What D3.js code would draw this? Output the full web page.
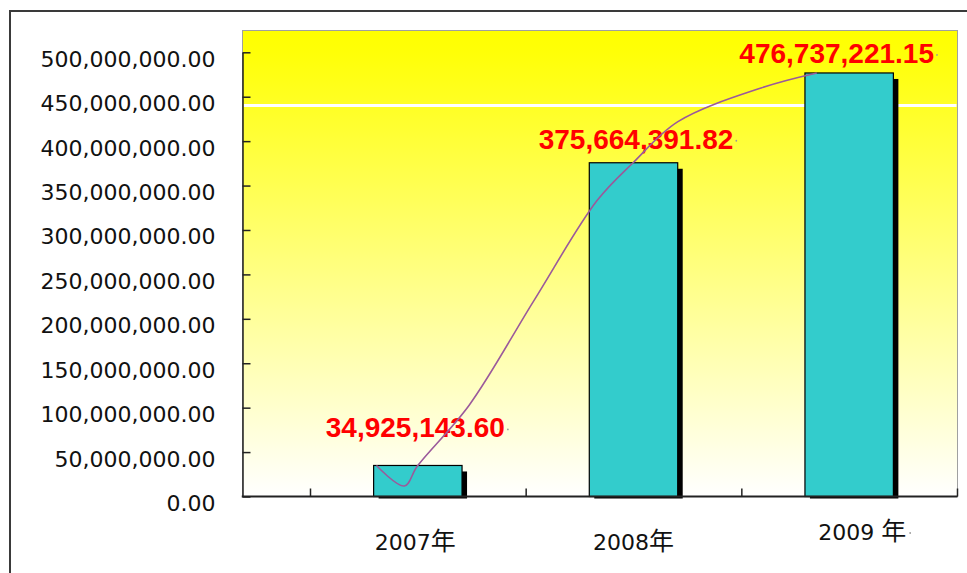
<!DOCTYPE html>
<html>
<head>
<meta charset="utf-8">
<script src="https://cdn.jsdelivr.net/npm/d3@7"></script>
<style>
  html, body { margin: 0; padding: 0; background: #fff; overflow: hidden; }
  svg { display: block; }
</style>
</head>
<body>
<svg id="chart" width="967" height="573"></svg>
<script>
// ---- data ----
const years = ["2007年", "2008年", "2009 年"];
const amounts = [34925143.60, 375664391.82, 476737221.15];
const yTickValues = [0, 50e6, 100e6, 150e6, 200e6, 250e6, 300e6, 350e6, 400e6, 450e6, 500e6];
const referenceValue = 440e6;
// smoothed trend curve: position in category units (0 = centre of first year) and value
const trendPos = [-0.192, -0.0625, -0.002, 0.238, 0.539, 0.831, 0.998, 1.206, 1.595, 1.850];
const trendValues = [34.9e6, 11.8e6, 34.3e6, 102.8e6, 220.8e6, 333.1e6, 375.7e6, 421.9e6, 460.1e6, 476.7e6];

// ---- layout / style ----
const plot = { left: 242.5, top: 30.5, right: 957.5, bottom: 496.5 };
const bandStart = 310, bandEnd = 957;
const valueLabelShift = [[-2.5, -28], [2.5, -14], [-12.5, -10]];   // [dx, dy] from bar top centre
const yearLabelShift = [[-2.5, 0], [0, 0], [13, -10]];
const fmt = d3.format(",.2f");

const svg = d3.select("#chart");

// outer frame
svg.append("rect")
  .attr("x", 10).attr("y", 11).attr("width", 2000).attr("height", 2000)
  .attr("fill", "none").attr("stroke", "#3a3a3a").attr("stroke-width", 2);

// scales
const y = d3.scaleLinear().domain([0, 500e6]).range([plot.bottom, 52.3]);
const x = d3.scaleBand().domain(years).range([bandStart, bandEnd])
  .paddingInner(0.59).paddingOuter(0.295);
const bw = x.bandwidth();
const centre = d => x(d) + bw / 2;
const xPos = d3.scaleLinear().domain([0, years.length - 1])
  .range([centre(years[0]), centre(years[years.length - 1])]);

// plot background gradient
const defs = svg.append("defs");
const grad = defs.append("linearGradient").attr("id", "bg")
  .attr("x1", 0).attr("y1", 0).attr("x2", 0).attr("y2", 1);
grad.append("stop").attr("offset", "0%").attr("stop-color", "#ffff00");
grad.append("stop").attr("offset", "5%").attr("stop-color", "#ffff08");
grad.append("stop").attr("offset", "100%").attr("stop-color", "#ffffff");

svg.append("rect")
  .attr("x", plot.left).attr("y", plot.top)
  .attr("width", plot.right - plot.left).attr("height", plot.bottom - plot.top)
  .attr("fill", "url(#bg)").attr("stroke", "#a0a0a0").attr("stroke-width", 1);

// white reference line
svg.append("line")
  .attr("x1", plot.left + 1).attr("x2", plot.right - 1)
  .attr("y1", y(referenceValue)).attr("y2", y(referenceValue))
  .attr("stroke", "#ffffff").attr("stroke-width", 3);

// bars with drop shadow
const data = years.map((k, i) => ({ k, v: amounts[i], i }));
svg.append("g").selectAll("rect").data(data).join("rect")
  .attr("x", d => x(d.k) + 5).attr("y", d => y(d.v) + 6)
  .attr("width", bw).attr("height", d => plot.bottom + 2 - y(d.v) - 6)
  .attr("fill", "#000");
svg.append("g").selectAll("rect").data(data).join("rect")
  .attr("x", d => x(d.k)).attr("y", d => y(d.v))
  .attr("width", bw).attr("height", d => plot.bottom - y(d.v))
  .attr("fill", "#33cccc").attr("stroke", "#000").attr("stroke-width", 1.2);

// value labels
const vl = svg.append("g").selectAll("text").data(data).join("text")
  .attr("x", d => centre(d.k) + valueLabelShift[d.i][0])
  .attr("y", d => y(d.v) + valueLabelShift[d.i][1])
  .attr("text-anchor", "middle")
  .attr("font-family", "'Liberation Sans', Arial, sans-serif")
  .attr("font-weight", "bold").attr("font-size", 28)
  .attr("fill", "#ff0000")
  .text(d => fmt(d.v));
vl.each(function (d) {
  const b = this.getBBox();
  svg.append("circle")
    .attr("cx", b.x + b.width + 3).attr("cy", y(d.v) + valueLabelShift[d.i][1] - 8)
    .attr("r", 0.9).attr("fill", "#9a9a9a");
});

// y axis (ticks point into the plot)
const yAxis = svg.append("g")
  .attr("transform", `translate(${plot.left},0)`)
  .call(d3.axisLeft(y).tickValues(yTickValues).tickFormat(fmt)
    .tickSizeInner(-8).tickSizeOuter(0).tickPadding(27));
yAxis.select(".domain").attr("stroke", "#222").attr("stroke-width", 1.5);
yAxis.selectAll(".tick line").attr("stroke", "#222").attr("stroke-width", 1.5);
yAxis.selectAll(".tick text")
  .attr("dy", null).attr("y", 14)
  .attr("font-family", "'DejaVu Sans', sans-serif").attr("font-size", 22)
  .attr("fill", "#111");

// x axis: baseline with ticks at band edges
svg.append("line")
  .attr("x1", plot.left - 0.75).attr("x2", plot.right)
  .attr("y1", plot.bottom).attr("y2", plot.bottom)
  .attr("stroke", "#222").attr("stroke-width", 2);
const xEdge = d3.scaleLinear().domain([0, years.length]).range([bandStart, bandEnd]);
const xAxis = svg.append("g")
  .attr("transform", `translate(0,${plot.bottom})`)
  .call(d3.axisBottom(xEdge).tickValues(d3.range(years.length + 1))
    .tickFormat("").tickSizeInner(-8).tickSizeOuter(0));
xAxis.select(".domain").remove();
xAxis.selectAll(".tick line").attr("stroke", "#222").attr("stroke-width", 1.5);

// year labels
const yl = svg.append("g").selectAll("text").data(data).join("text")
  .attr("x", d => centre(d.k) + yearLabelShift[d.i][0])
  .attr("y", d => plot.bottom + 53.5 + yearLabelShift[d.i][1])
  .attr("text-anchor", "middle")
  .attr("font-family", "'DejaVu Sans', 'Noto Sans CJK SC', sans-serif")
  .attr("font-size", 22).attr("fill", "#111");
yl.each(function (d) {
  const t = d3.select(this);
  const num = d.k.replace("年", "");
  t.append("tspan").text(num);
  t.append("tspan").attr("font-family", "'Noto Sans CJK SC', sans-serif")
    .attr("font-size", 25).text("年");
});
yl.filter(d => d.i === years.length - 1).each(function (d) {
  const b = this.getBBox();
  svg.append("circle")
    .attr("cx", b.x + b.width + 4)
    .attr("cy", plot.bottom + 53.5 + yearLabelShift[d.i][1] - 7)
    .attr("r", 0.9).attr("fill", "#9a9a9a");
});

// trend curve
const line = d3.line()
  .x((d, i) => xPos(trendPos[i]))
  .y(d => y(d))
  .curve(d3.curveCatmullRom.alpha(0.5));
svg.append("path")
  .attr("d", line(trendValues))
  .attr("fill", "none").attr("stroke", "#9b5a9b").attr("stroke-width", 1.6);
</script>
</body>
</html>
